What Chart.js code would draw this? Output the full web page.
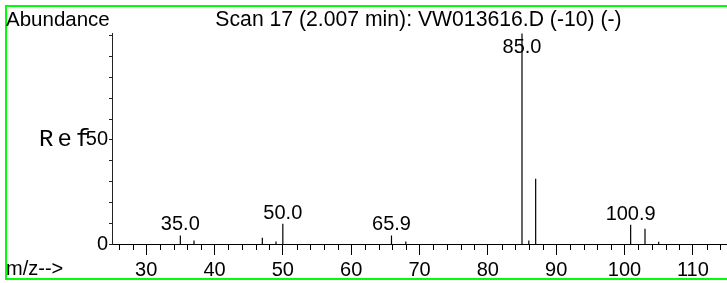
<!DOCTYPE html>
<html>
<head>
<meta charset="utf-8">
<script src="https://cdn.jsdelivr.net/npm/chart.js@4.4.0/dist/chart.umd.min.js"></script>
<style>
  html, body { margin: 0; padding: 0; background: #fff; }
</style>
</head>
<body>
<canvas id="spectrum" width="727" height="283"></canvas>
<script>
// peaks (m/z, relative abundance)
const mz = [35.0, 37, 47, 49, 50.0, 65.9, 68, 85.0, 86, 87, 100.9, 103, 105];
const abundance = [4.1, 1.7, 3.0, 1.2, 9.7, 4.1, 1.2, 101, 1.7, 31.3, 9.2, 7.3, 1.1];
const peakLabels = ["35.0", "", "", "", "50.0", "65.9", "", "85.0", "", "", "100.9", "", ""];

const xTicks = [30, 40, 50, 60, 70, 80, 90, 100, 110];
const yTicks = [0, 10, 20, 30, 40, 50, 60, 70, 80, 90, 100];
const yTickLabels = ["0", "", "", "", "", "50", "", "", "", "", ""];

const title = "Scan 17 (2.007 min): VW013616.D (-10) (-)";
const SANS = "'Liberation Sans', Arial, sans-serif";

// each peak is a vertical stick: (x,0) -> (x,y), then a gap
const sticks = [];
mz.forEach((m, i) => {
    sticks.push({ x: m, y: 0 });
    sticks.push({ x: m, y: abundance[i] });
    sticks.push({ x: m, y: null });
});

const decorations = {
    id: "decorations",
    afterDraw(chart) {
        const ctx = chart.ctx;
        const xs = chart.scales.x;
        const ys = chart.scales.y;
        const area = chart.chartArea;
        ctx.save();

        // green frame
        ctx.strokeStyle = "#00ff00";
        ctx.lineWidth = 2;
        ctx.strokeRect(6, 6, 740, 273);

        // minor x ticks every 2
        ctx.strokeStyle = "#000";
        ctx.lineWidth = 1;
        ctx.beginPath();
        for (let v = 26; v < 115; v += 2) {
            if (v % 10 === 0) continue;
            const px = Math.round(xs.getPixelForValue(v)) + 0.5;
            ctx.moveTo(px, area.bottom);
            ctx.lineTo(px, area.bottom + 6);
        }
        ctx.stroke();

        ctx.fillStyle = "#000";
        ctx.textBaseline = "alphabetic";

        ctx.textAlign = "left";
        ctx.font = "20.5px " + SANS;
        ctx.fillText("Abundance", 6, 26);
        ctx.font = "20px " + SANS;
        ctx.fillText("m/z-->", 6, 275);

        ctx.textAlign = "center";
        ctx.font = "21.2px " + SANS;
        ctx.fillText(title, 418.5 - (419.5 - (area.left + area.right) / 2), 26);

        // peak labels
        ctx.font = "20px " + SANS;
        mz.forEach((m, i) => {
            if (!peakLabels[i]) return;
            const px = xs.getPixelForValue(m);
            const top = ys.getPixelForValue(abundance[i]);
            ctx.fillText(peakLabels[i], px, Math.max(top - 5, 53));
        });

        // "Ref" marker
        ctx.textAlign = "left";
        ctx.font = "24px 'Liberation Mono', 'Courier New', monospace";
        ctx.letterSpacing = "4px";
        ctx.fillText("Ref", 39, 146);
        ctx.restore();
    }
};

new Chart(document.getElementById("spectrum"), {
    type: "line",
    data: {
        datasets: [{
            data: sticks,
            borderColor: "#000",
            borderWidth: 1.2,
            pointRadius: 0,
            spanGaps: false,
            tension: 0
        }]
    },
    options: {
        responsive: false,
        animation: false,
        layout: { padding: { top: 33, left: 0, right: 0, bottom: 0 } },
        plugins: {
            legend: { display: false },
            tooltip: { enabled: false }
        },
        scales: {
            x: {
                type: "linear",
                min: 25,
                max: 115,
                afterBuildTicks: s => { s.ticks = xTicks.map(v => ({ value: v })); },
                afterFit: s => { s.height = 39; },
                grid: { drawOnChartArea: false, drawTicks: true, tickLength: 11, color: "#000" },
                border: { display: true, color: "#000" },
                ticks: {
                    font: { family: SANS, size: 20 },
                    color: "#000",
                    padding: 3,
                    maxRotation: 0,
                    autoSkip: false
                }
            },
            y: {
                min: 0,
                max: 101.3,
                afterBuildTicks: s => { s.ticks = yTicks.map(v => ({ value: v })); },
                afterFit: s => { s.width = 112; },
                grid: { drawOnChartArea: false, drawTicks: true, tickLength: 3, color: "#222" },
                border: { display: true, color: "#222" },
                ticks: {
                    font: { family: SANS, size: 20 },
                    color: "#000",
                    padding: 1,
                    autoSkip: false,
                    callback: (v, i) => yTickLabels[i]
                }
            }
        }
    },
    plugins: [decorations]
});
</script>
</body>
</html>
